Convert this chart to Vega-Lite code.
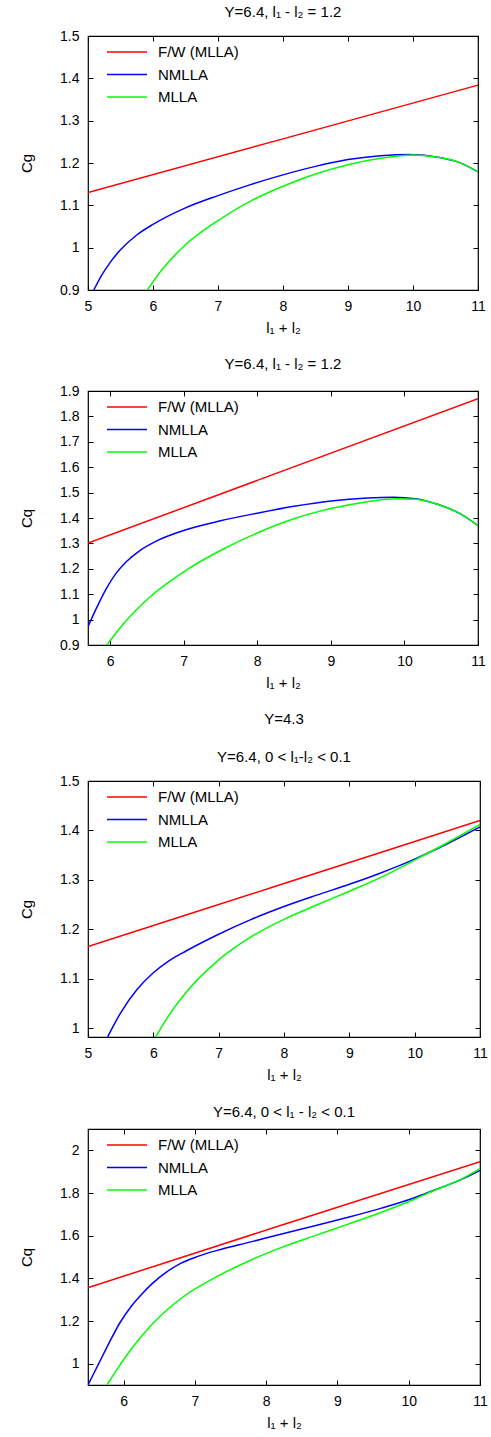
{
  "$schema": "https://vega.github.io/schema/vega-lite/v6.json",
  "padding": {"left": 18, "top": 4, "right": 2, "bottom": 2},
  "background": "white",
  "spacing": 20,
  "datasets": {
    "curves": [
      {"panel": 1, "series": "F/W (MLLA)", "x": 5.0, "y": 1.1305},
      {"panel": 1, "series": "F/W (MLLA)", "x": 8.0, "y": 1.257},
      {"panel": 1, "series": "F/W (MLLA)", "x": 11.0, "y": 1.384},
      {"panel": 1, "series": "NMLLA", "x": 5.09, "y": 0.9},
      {"panel": 1, "series": "NMLLA", "x": 5.2, "y": 0.932},
      {"panel": 1, "series": "NMLLA", "x": 5.35, "y": 0.967},
      {"panel": 1, "series": "NMLLA", "x": 5.5, "y": 0.995},
      {"panel": 1, "series": "NMLLA", "x": 5.75, "y": 1.03},
      {"panel": 1, "series": "NMLLA", "x": 6.0, "y": 1.055},
      {"panel": 1, "series": "NMLLA", "x": 6.5, "y": 1.094},
      {"panel": 1, "series": "NMLLA", "x": 7.0, "y": 1.123},
      {"panel": 1, "series": "NMLLA", "x": 7.5, "y": 1.149},
      {"panel": 1, "series": "NMLLA", "x": 8.0, "y": 1.172},
      {"panel": 1, "series": "NMLLA", "x": 8.5, "y": 1.192},
      {"panel": 1, "series": "NMLLA", "x": 9.0, "y": 1.208},
      {"panel": 1, "series": "NMLLA", "x": 9.5, "y": 1.217},
      {"panel": 1, "series": "NMLLA", "x": 9.95, "y": 1.22},
      {"panel": 1, "series": "NMLLA", "x": 10.41, "y": 1.213},
      {"panel": 1, "series": "NMLLA", "x": 10.72, "y": 1.201},
      {"panel": 1, "series": "NMLLA", "x": 11.0, "y": 1.179},
      {"panel": 1, "series": "MLLA", "x": 5.913, "y": 0.9},
      {"panel": 1, "series": "MLLA", "x": 6.128, "y": 0.946},
      {"panel": 1, "series": "MLLA", "x": 6.487, "y": 1.005},
      {"panel": 1, "series": "MLLA", "x": 7.0, "y": 1.064},
      {"panel": 1, "series": "MLLA", "x": 7.513, "y": 1.111},
      {"panel": 1, "series": "MLLA", "x": 8.0, "y": 1.145},
      {"panel": 1, "series": "MLLA", "x": 8.5, "y": 1.174},
      {"panel": 1, "series": "MLLA", "x": 9.0, "y": 1.196},
      {"panel": 1, "series": "MLLA", "x": 9.5, "y": 1.211},
      {"panel": 1, "series": "MLLA", "x": 10.0, "y": 1.219},
      {"panel": 1, "series": "MLLA", "x": 10.41, "y": 1.213},
      {"panel": 1, "series": "MLLA", "x": 10.72, "y": 1.201},
      {"panel": 1, "series": "MLLA", "x": 11.0, "y": 1.179},

      {"panel": 2, "series": "F/W (MLLA)", "x": 5.7, "y": 1.301},
      {"panel": 2, "series": "F/W (MLLA)", "x": 8.0, "y": 1.548},
      {"panel": 2, "series": "F/W (MLLA)", "x": 11.0, "y": 1.87},
      {"panel": 2, "series": "NMLLA", "x": 5.7, "y": 0.972},
      {"panel": 2, "series": "NMLLA", "x": 5.81, "y": 1.042},
      {"panel": 2, "series": "NMLLA", "x": 5.947, "y": 1.121},
      {"panel": 2, "series": "NMLLA", "x": 6.083, "y": 1.183},
      {"panel": 2, "series": "NMLLA", "x": 6.22, "y": 1.228},
      {"panel": 2, "series": "NMLLA", "x": 6.4, "y": 1.271},
      {"panel": 2, "series": "NMLLA", "x": 6.628, "y": 1.309},
      {"panel": 2, "series": "NMLLA", "x": 7.0, "y": 1.351},
      {"panel": 2, "series": "NMLLA", "x": 7.5, "y": 1.389},
      {"panel": 2, "series": "NMLLA", "x": 8.0, "y": 1.419},
      {"panel": 2, "series": "NMLLA", "x": 8.5, "y": 1.446},
      {"panel": 2, "series": "NMLLA", "x": 9.0, "y": 1.467},
      {"panel": 2, "series": "NMLLA", "x": 9.5, "y": 1.479},
      {"panel": 2, "series": "NMLLA", "x": 9.85, "y": 1.482},
      {"panel": 2, "series": "NMLLA", "x": 10.15, "y": 1.476},
      {"panel": 2, "series": "NMLLA", "x": 10.45, "y": 1.454},
      {"panel": 2, "series": "NMLLA", "x": 10.75, "y": 1.418},
      {"panel": 2, "series": "NMLLA", "x": 11.0, "y": 1.37},
      {"panel": 2, "series": "MLLA", "x": 5.956, "y": 0.9},
      {"panel": 2, "series": "MLLA", "x": 6.174, "y": 0.981},
      {"panel": 2, "series": "MLLA", "x": 6.537, "y": 1.088},
      {"panel": 2, "series": "MLLA", "x": 7.0, "y": 1.188},
      {"panel": 2, "series": "MLLA", "x": 7.5, "y": 1.272},
      {"panel": 2, "series": "MLLA", "x": 8.0, "y": 1.341},
      {"panel": 2, "series": "MLLA", "x": 8.5, "y": 1.397},
      {"panel": 2, "series": "MLLA", "x": 9.0, "y": 1.437},
      {"panel": 2, "series": "MLLA", "x": 9.5, "y": 1.464},
      {"panel": 2, "series": "MLLA", "x": 9.9, "y": 1.476},
      {"panel": 2, "series": "MLLA", "x": 10.15, "y": 1.474},
      {"panel": 2, "series": "MLLA", "x": 10.45, "y": 1.454},
      {"panel": 2, "series": "MLLA", "x": 10.75, "y": 1.418},
      {"panel": 2, "series": "MLLA", "x": 11.0, "y": 1.37},

      {"panel": 3, "series": "F/W (MLLA)", "x": 5.0, "y": 1.165},
      {"panel": 3, "series": "F/W (MLLA)", "x": 8.0, "y": 1.2925},
      {"panel": 3, "series": "F/W (MLLA)", "x": 11.0, "y": 1.42},
      {"panel": 3, "series": "NMLLA", "x": 5.3, "y": 0.982},
      {"panel": 3, "series": "NMLLA", "x": 5.5, "y": 1.031},
      {"panel": 3, "series": "NMLLA", "x": 5.75, "y": 1.078},
      {"panel": 3, "series": "NMLLA", "x": 6.0, "y": 1.112},
      {"panel": 3, "series": "NMLLA", "x": 6.25, "y": 1.137},
      {"panel": 3, "series": "NMLLA", "x": 6.5, "y": 1.156},
      {"panel": 3, "series": "NMLLA", "x": 7.0, "y": 1.19},
      {"panel": 3, "series": "NMLLA", "x": 7.5, "y": 1.22},
      {"panel": 3, "series": "NMLLA", "x": 8.0, "y": 1.246},
      {"panel": 3, "series": "NMLLA", "x": 8.5, "y": 1.269},
      {"panel": 3, "series": "NMLLA", "x": 9.0, "y": 1.291},
      {"panel": 3, "series": "NMLLA", "x": 9.5, "y": 1.315},
      {"panel": 3, "series": "NMLLA", "x": 10.0, "y": 1.342},
      {"panel": 3, "series": "NMLLA", "x": 10.5, "y": 1.373},
      {"panel": 3, "series": "NMLLA", "x": 11.0, "y": 1.407},
      {"panel": 3, "series": "MLLA", "x": 6.037, "y": 0.982},
      {"panel": 3, "series": "MLLA", "x": 6.2, "y": 1.018},
      {"panel": 3, "series": "MLLA", "x": 6.5, "y": 1.072},
      {"panel": 3, "series": "MLLA", "x": 7.0, "y": 1.138},
      {"panel": 3, "series": "MLLA", "x": 7.5, "y": 1.185},
      {"panel": 3, "series": "MLLA", "x": 8.0, "y": 1.22},
      {"panel": 3, "series": "MLLA", "x": 8.5, "y": 1.249},
      {"panel": 3, "series": "MLLA", "x": 9.0, "y": 1.277},
      {"panel": 3, "series": "MLLA", "x": 9.5, "y": 1.306},
      {"panel": 3, "series": "MLLA", "x": 10.0, "y": 1.34},
      {"panel": 3, "series": "MLLA", "x": 10.5, "y": 1.375},
      {"panel": 3, "series": "MLLA", "x": 11.0, "y": 1.412},

      {"panel": 4, "series": "F/W (MLLA)", "x": 5.5, "y": 1.356},
      {"panel": 4, "series": "F/W (MLLA)", "x": 8.2, "y": 1.648},
      {"panel": 4, "series": "F/W (MLLA)", "x": 11.0, "y": 1.947},
      {"panel": 4, "series": "NMLLA", "x": 5.5, "y": 0.9},
      {"panel": 4, "series": "NMLLA", "x": 5.65, "y": 1.0},
      {"panel": 4, "series": "NMLLA", "x": 5.8, "y": 1.1},
      {"panel": 4, "series": "NMLLA", "x": 5.95, "y": 1.193},
      {"panel": 4, "series": "NMLLA", "x": 6.1, "y": 1.266},
      {"panel": 4, "series": "NMLLA", "x": 6.25, "y": 1.324},
      {"panel": 4, "series": "NMLLA", "x": 6.4, "y": 1.375},
      {"panel": 4, "series": "NMLLA", "x": 6.6, "y": 1.429},
      {"panel": 4, "series": "NMLLA", "x": 6.8, "y": 1.47},
      {"panel": 4, "series": "NMLLA", "x": 7.0, "y": 1.498},
      {"panel": 4, "series": "NMLLA", "x": 7.3, "y": 1.53},
      {"panel": 4, "series": "NMLLA", "x": 7.8, "y": 1.572},
      {"panel": 4, "series": "NMLLA", "x": 8.218, "y": 1.608},
      {"panel": 4, "series": "NMLLA", "x": 8.684, "y": 1.646},
      {"panel": 4, "series": "NMLLA", "x": 9.15, "y": 1.686},
      {"panel": 4, "series": "NMLLA", "x": 9.617, "y": 1.729},
      {"panel": 4, "series": "NMLLA", "x": 10.08, "y": 1.778},
      {"panel": 4, "series": "NMLLA", "x": 10.316, "y": 1.808},
      {"panel": 4, "series": "NMLLA", "x": 10.78, "y": 1.87},
      {"panel": 4, "series": "NMLLA", "x": 11.0, "y": 1.906},
      {"panel": 4, "series": "MLLA", "x": 5.766, "y": 0.9},
      {"panel": 4, "series": "MLLA", "x": 5.915, "y": 0.977},
      {"panel": 4, "series": "MLLA", "x": 6.148, "y": 1.086},
      {"panel": 4, "series": "MLLA", "x": 6.38, "y": 1.178},
      {"panel": 4, "series": "MLLA", "x": 6.614, "y": 1.254},
      {"panel": 4, "series": "MLLA", "x": 6.847, "y": 1.316},
      {"panel": 4, "series": "MLLA", "x": 7.313, "y": 1.409},
      {"panel": 4, "series": "MLLA", "x": 7.78, "y": 1.485},
      {"panel": 4, "series": "MLLA", "x": 8.218, "y": 1.545},
      {"panel": 4, "series": "MLLA", "x": 8.684, "y": 1.6},
      {"panel": 4, "series": "MLLA", "x": 9.15, "y": 1.654},
      {"panel": 4, "series": "MLLA", "x": 9.617, "y": 1.71},
      {"panel": 4, "series": "MLLA", "x": 10.08, "y": 1.771},
      {"panel": 4, "series": "MLLA", "x": 10.316, "y": 1.806},
      {"panel": 4, "series": "MLLA", "x": 10.78, "y": 1.872},
      {"panel": 4, "series": "MLLA", "x": 11.0, "y": 1.914}
    ]
  },
  "vconcat": [
    {
      "width": 390, "height": 254,
      "title": {"text": "Y=6.4, l₁ - l₂ = 1.2"},
      "data": {"name": "curves"},
      "transform": [{"filter": "datum.panel == 1"}],
      "layer": [
        {
          "mark": {"type": "line", "strokeWidth": 1.5, "interpolate": "monotone", "clip": true},
          "encoding": {
            "x": {"field": "x", "type": "quantitative", "scale": {"domain": [5, 11], "nice": false, "zero": false}, "axis": {"values": [5, 6, 7, 8, 9, 10, 11], "title": "l₁ + l₂"}},
            "y": {"field": "y", "type": "quantitative", "scale": {"domain": [0.9, 1.5], "nice": false, "zero": false}, "axis": {"values": [0.9, 1.0, 1.1, 1.2, 1.3, 1.4, 1.5], "title": "Cg"}},
            "color": {"field": "series", "type": "nominal", "scale": {"domain": ["F/W (MLLA)", "NMLLA", "MLLA"], "range": ["#ff0000", "#0000ff", "#00ff00"]}}
          }
        },
        {
          "mark": {"type": "line", "opacity": 0},
          "encoding": {
            "x": {"field": "x", "type": "quantitative", "scale": {"domain": [5, 11], "nice": false, "zero": false}, "axis": {"orient": "top", "labels": false, "title": null, "values": [5, 6, 7, 8, 9, 10, 11]}},
            "y": {"field": "y", "type": "quantitative", "scale": {"domain": [0.9, 1.5], "nice": false, "zero": false}, "axis": {"orient": "right", "labels": false, "title": null, "values": [0.9, 1.0, 1.1, 1.2, 1.3, 1.4, 1.5]}},
            "detail": {"field": "series"}
          }
        }
      ],
      "resolve": {"axis": {"x": "independent", "y": "independent"}}
    },
    {
      "width": 390, "height": 254,
      "title": {"text": "Y=6.4, l₁ - l₂ = 1.2", "offset": 12},
      "data": {"name": "curves"},
      "transform": [{"filter": "datum.panel == 2"}],
      "layer": [
        {
          "mark": {"type": "line", "strokeWidth": 1.5, "interpolate": "monotone", "clip": true},
          "encoding": {
            "x": {"field": "x", "type": "quantitative", "scale": {"domain": [5.7, 11], "nice": false, "zero": false}, "axis": {"values": [6, 7, 8, 9, 10, 11], "title": "l₁ + l₂"}},
            "y": {"field": "y", "type": "quantitative", "scale": {"domain": [0.9, 1.9], "nice": false, "zero": false}, "axis": {"values": [0.9, 1.0, 1.1, 1.2, 1.3, 1.4, 1.5, 1.6, 1.7, 1.8, 1.9], "title": "Cq"}},
            "color": {"field": "series", "type": "nominal", "scale": {"domain": ["F/W (MLLA)", "NMLLA", "MLLA"], "range": ["#ff0000", "#0000ff", "#00ff00"]}}
          }
        },
        {
          "mark": {"type": "line", "opacity": 0},
          "encoding": {
            "x": {"field": "x", "type": "quantitative", "scale": {"domain": [5.7, 11], "nice": false, "zero": false}, "axis": {"orient": "top", "labels": false, "title": null, "values": [6, 7, 8, 9, 10, 11]}},
            "y": {"field": "y", "type": "quantitative", "scale": {"domain": [0.9, 1.9], "nice": false, "zero": false}, "axis": {"orient": "right", "labels": false, "title": null, "values": [0.9, 1.0, 1.1, 1.2, 1.3, 1.4, 1.5, 1.6, 1.7, 1.8, 1.9]}},
            "detail": {"field": "series"}
          }
        }
      ],
      "resolve": {"axis": {"x": "independent", "y": "independent"}}
    },
    {
      "width": 392, "height": 256,
      "title": {"text": "Y=4.3", "subtitle": "Y=6.4, 0 < l₁-l₂ < 0.1", "subtitlePadding": 23},
      "data": {"name": "curves"},
      "transform": [{"filter": "datum.panel == 3"}],
      "layer": [
        {
          "mark": {"type": "line", "strokeWidth": 1.5, "interpolate": "monotone", "clip": true},
          "encoding": {
            "x": {"field": "x", "type": "quantitative", "scale": {"domain": [5, 11], "nice": false, "zero": false}, "axis": {"values": [5, 6, 7, 8, 9, 10, 11], "title": "l₁ + l₂"}},
            "y": {"field": "y", "type": "quantitative", "scale": {"domain": [0.982, 1.5], "nice": false, "zero": false}, "axis": {"values": [1.0, 1.1, 1.2, 1.3, 1.4, 1.5], "title": "Cg"}},
            "color": {"field": "series", "type": "nominal", "scale": {"domain": ["F/W (MLLA)", "NMLLA", "MLLA"], "range": ["#ff0000", "#0000ff", "#00ff00"]}}
          }
        },
        {
          "mark": {"type": "line", "opacity": 0},
          "encoding": {
            "x": {"field": "x", "type": "quantitative", "scale": {"domain": [5, 11], "nice": false, "zero": false}, "axis": {"orient": "top", "labels": false, "title": null, "values": [5, 6, 7, 8, 9, 10, 11]}},
            "y": {"field": "y", "type": "quantitative", "scale": {"domain": [0.982, 1.5], "nice": false, "zero": false}, "axis": {"orient": "right", "labels": false, "title": null, "values": [1.0, 1.1, 1.2, 1.3, 1.4, 1.5]}},
            "detail": {"field": "series"}
          }
        }
      ],
      "resolve": {"axis": {"x": "independent", "y": "independent"}}
    },
    {
      "width": 392, "height": 256,
      "title": {"text": "Y=6.4, 0 < l₁ - l₂ < 0.1"},
      "data": {"name": "curves"},
      "transform": [{"filter": "datum.panel == 4"}],
      "layer": [
        {
          "mark": {"type": "line", "strokeWidth": 1.5, "interpolate": "monotone", "clip": true},
          "encoding": {
            "x": {"field": "x", "type": "quantitative", "scale": {"domain": [5.5, 11], "nice": false, "zero": false}, "axis": {"values": [6, 7, 8, 9, 10, 11], "title": "l₁ + l₂"}},
            "y": {"field": "y", "type": "quantitative", "scale": {"domain": [0.9, 2.1], "nice": false, "zero": false}, "axis": {"values": [1.0, 1.2, 1.4, 1.6, 1.8, 2.0], "title": "Cq"}},
            "color": {"field": "series", "type": "nominal", "scale": {"domain": ["F/W (MLLA)", "NMLLA", "MLLA"], "range": ["#ff0000", "#0000ff", "#00ff00"]}}
          }
        },
        {
          "mark": {"type": "line", "opacity": 0},
          "encoding": {
            "x": {"field": "x", "type": "quantitative", "scale": {"domain": [5.5, 11], "nice": false, "zero": false}, "axis": {"orient": "top", "labels": false, "title": null, "values": [6, 7, 8, 9, 10, 11]}},
            "y": {"field": "y", "type": "quantitative", "scale": {"domain": [0.9, 2.1], "nice": false, "zero": false}, "axis": {"orient": "right", "labels": false, "title": null, "values": [1.0, 1.2, 1.4, 1.6, 1.8, 2.0]}},
            "detail": {"field": "series"}
          }
        }
      ],
      "resolve": {"axis": {"x": "independent", "y": "independent"}}
    }
  ],
  "resolve": {"scale": {"color": "independent"}, "legend": {"color": "independent"}},
  "config": {
    "font": "Liberation Sans",
    "view": {"stroke": "black", "strokeWidth": 1.2},
    "title": {"fontSize": 15, "fontWeight": "normal", "color": "black", "offset": 9, "subtitleFontSize": 15, "subtitleColor": "black", "subtitleFont": "Liberation Sans"},
    "axis": {
      "grid": false, "domain": false, "tickColor": "black", "tickSize": -5, "tickWidth": 1,
      "labelFontSize": 14, "labelColor": "black", "labelFlush": false, "labelOverlap": false, "format": "~g",
      "titleFontSize": 15, "titleFontWeight": "normal", "titleColor": "black"
    },
    "axisX": {"labelPadding": 14, "titlePadding": 7},
    "axisY": {"labelPadding": 14, "titlePadding": 25},
    "legend": {
      "orient": "none", "legendX": 18, "legendY": 8, "title": null, "padding": 0,
      "symbolType": "stroke", "symbolSize": 1600, "symbolStrokeWidth": 1.5,
      "labelFontSize": 15, "labelColor": "black", "labelOffset": 10,
      "clipHeight": 16, "rowPadding": 6.5
    }
  }
}
